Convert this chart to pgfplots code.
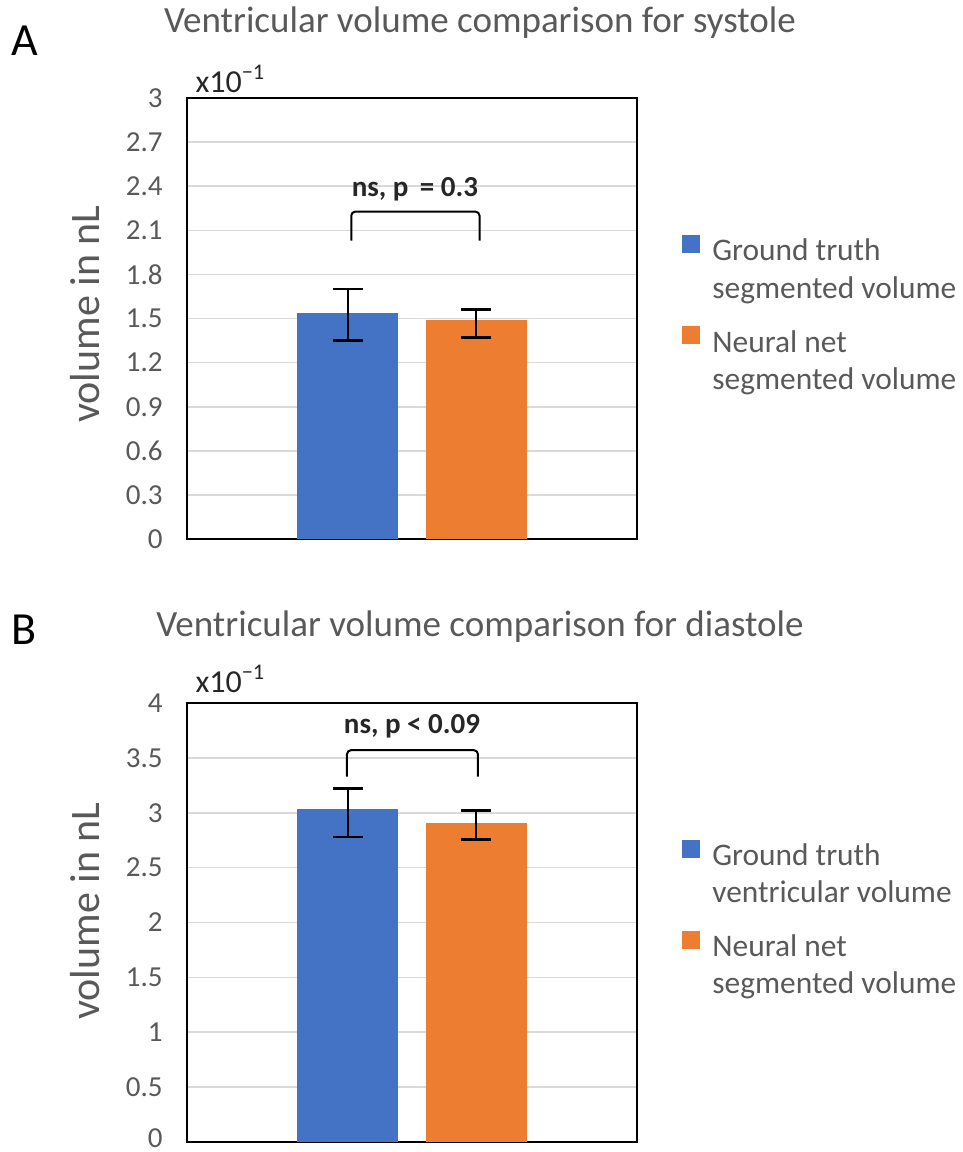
\documentclass[border=0pt]{standalone}
\usepackage{fontspec}
\setmainfont{Carlito}
\usepackage{pgfplots}
\pgfplotsset{compat=1.18}

\definecolor{gtblue}{HTML}{4472C4}
\definecolor{nnorange}{HTML}{ED7D31}
\definecolor{txtgray}{HTML}{595959}
\definecolor{gridgray}{HTML}{D9D9D9}

\pgfplotsset{
  volpanel/.style={
    scale only axis, width=225pt,
    xmin=-1, xmax=1, ymin=0,
    clip=false,
    xtick=\empty,
    major tick length=0pt,
    ymajorgrids,
    grid style={gridgray, line width=0.8pt},
    axis line style={black, line width=1pt},
    yticklabel style={font=\fontsize{14.5}{16}\selectfont, text=txtgray, inner sep=0pt, xshift=-12pt},
    ylabel={volume in nL},
    ylabel style={font=\fontsize{21}{24}\selectfont, text=txtgray, at={(axis description cs:-0.227,0.51)}, anchor=center},
    ybar, bar width=0.449, bar shift=0pt,
    error bars/y dir=both, error bars/y explicit,
    error bars/error bar style={black, line width=1.2pt},
    error bars/error mark options={rotate=90, mark size=7.5pt, line width=1.2pt, black},
    legend cell align=left,
    legend style={draw=none, fill=none, inner sep=0pt, column sep=4pt, row sep=27pt,
      font=\fontsize{15.7}{18.7}\selectfont, text=txtgray, anchor=north west,
      at={(axis description cs:1.1,0.70)}},
    legend image code/.code={\fill[##1] (0pt,-2pt) rectangle (9pt,7pt);},
  },
}
\tikzset{
  bracket/.style={black, line width=1pt, rounded corners=2pt},
  pnote/.style={font=\fontsize{14.5}{16}\selectfont\bfseries, text=black!85},
  scalenote/.style={anchor=base west, font=\fontsize{16}{17}\selectfont, text=black!85, inner sep=0pt},
}

\newcommand{\twoline}[2]{\begin{tabular}[t]{@{}l@{}}#1\\#2\end{tabular}}

\begin{document}
\begin{tikzpicture}
\useasboundingbox (0,0) rectangle (481.5pt,-576pt);

% ---------------- Panel A: systole ----------------
\node[anchor=base, font=\fontsize{23}{26}\selectfont] at (12.5pt,-27.5pt) {A};
\node[anchor=base, font=\fontsize{18.5}{21}\selectfont, text=txtgray] at (240pt,-16pt)
  {Ventricular volume comparison for systole};
\begin{axis}[volpanel,
  at={(93.5pt,-269.5pt)}, anchor=south west, height=220.5pt,
  ymax=3,
  ytick={0,0.3,0.6,0.9,1.2,1.5,1.8,2.1,2.4,2.7,3},
  yticklabels={0,0.3,0.6,0.9,1.2,1.5,1.8,2.1,2.4,2.7,3},
]
\addplot[fill=gtblue, draw=none] coordinates {(-0.2853,1.54) += (0,0.16) -= (0,0.19)};
\addlegendentry{\twoline{Ground truth}{segmented volume}}
\addplot[fill=nnorange, draw=none] coordinates {(0.2853,1.49) += (0,0.07) -= (0,0.12)};
\addlegendentry{\twoline{Neural net}{segmented volume}}
\draw[bracket] (axis cs:-0.27,2.03) -- (axis cs:-0.27,2.227) -- (axis cs:0.30,2.227) -- (axis cs:0.30,2.03);
\node[pnote, anchor=center] at (axis cs:0.013,2.38) {ns, p \,= 0.3};
\node[scalenote] at (axis description cs:0.018,1.013) {x10\textsuperscript{−1}};
\end{axis}

% ---------------- Panel B: diastole ----------------
\node[anchor=base, font=\fontsize{23}{26}\selectfont] at (12pt,-322pt) {B};
\node[anchor=base, font=\fontsize{18.5}{21}\selectfont, text=txtgray] at (240pt,-318pt)
  {Ventricular volume comparison for diastole};
\begin{axis}[volpanel,
  at={(93.5pt,-571pt)}, anchor=south west, height=219.5pt,
  ymax=4,
  ytick={0,0.5,1,1.5,2,2.5,3,3.5,4},
  yticklabels={\raisebox{4pt}{0},0.5,1,1.5,2,2.5,3,3.5,4},
  ylabel style={at={(axis description cs:-0.227,0.526)}},
]
\addplot[fill=gtblue, draw=none] coordinates {(-0.2853,3.03) += (0,0.19) -= (0,0.25)};
\addlegendentry{\twoline{Ground truth}{ventricular volume}}
\addplot[fill=nnorange, draw=none] coordinates {(0.2853,2.91) += (0,0.11) -= (0,0.155)};
\addlegendentry{\twoline{Neural net}{segmented volume}}
\draw[bracket] (axis cs:-0.289,3.33) -- (axis cs:-0.289,3.57) -- (axis cs:0.293,3.57) -- (axis cs:0.293,3.33);
\node[pnote, anchor=center] at (axis cs:0.0,3.79) {ns, p < 0.09};
\node[scalenote] at (axis description cs:0.018,1.025) {x10\textsuperscript{−1}};
\end{axis}
\end{tikzpicture}
\end{document}
